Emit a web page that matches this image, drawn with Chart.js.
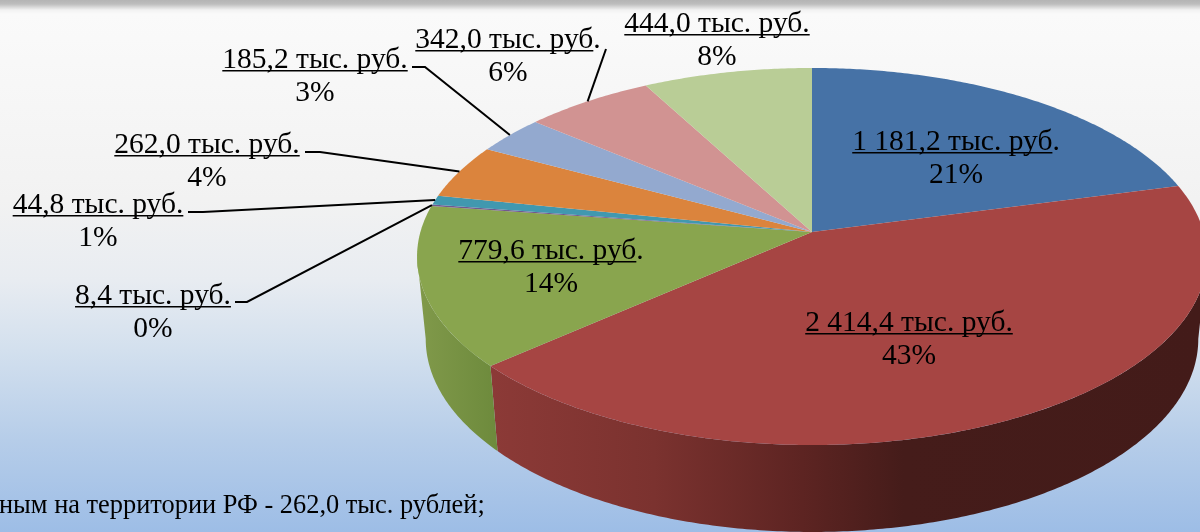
<!DOCTYPE html>
<html lang="ru">
<head>
<meta charset="utf-8">
<title>Структура расходов</title>
<script src="https://cdn.jsdelivr.net/npm/chart.js@4"></script>
<style>
  html, body { margin: 0; padding: 0; }
  body {
    width: 1200px; height: 532px; overflow: hidden;
    background: linear-gradient(180deg, #b4b4b4 0px, #bdbdbd 4px, #f2f2f2 10px, #fafafa 14px, #f2f2f2 200px, #e8ecf1 280px, #d3e0ee 350px, #b6cde9 440px, #9dbde6 532px);
  }
  canvas { display: block; }
</style>
</head>
<body>
<div style="position:relative;width:1200px;height:532px"><canvas id="pie"></canvas></div>
<script>
// Данные с картинки, по часовой стрелке от 12 часов
const values = [1181.2, 2414.4, 779.6, 8.4, 44.8, 262.0, 185.2, 342.0, 444.0];
const valueLabels = ["1 181,2 тыс. руб.", "2 414,4 тыс. руб.", "779,6 тыс. руб.", "8,4 тыс. руб.", "44,8 тыс. руб.", "262,0 тыс. руб.", "185,2 тыс. руб.", "342,0 тыс. руб.", "444,0 тыс. руб."];
const percentLabels = ["21%", "43%", "14%", "0%", "1%", "4%", "3%", "6%", "8%"];
const colors = ["#4672a6", "#a64543", "#89a54e", "#71588f", "#4198af", "#db843d", "#93a9cf", "#d19392", "#b9cd96"];
const footerText = "ным на территории РФ - 262,0 тыс. рублей;";

// Раскладка подписей: центр, базовая линия, подчёркнута ли точка
const labelLayout = [
  { x: 956, y: 150, dot: false },
  { x: 909, y: 331, dot: true },
  { x: 551, y: 259, dot: false },
  { x: 153, y: 304, dot: true },
  { x: 98, y: 213, dot: true },
  { x: 207, y: 153, dot: true },
  { x: 315, y: 68, dot: true },
  { x: 508, y: 48, dot: false },
  { x: 717, y: 32, dot: true }
];
// Выноски: откуда идёт линия (полка у подписи), конец считается по сектору
const leaders = {
  3: [[235, 302], [247, 302]],
  4: [[188, 212], [203, 212]],
  5: [[305, 152], [320, 152]],
  6: [[412, 67], [425, 67]],
  7: [[606, 49]]
};

// Верхняя грань и нижний край: круг в перспективе
const CX = 812, K = -0.13;
const top3d = { c: 391.6, a: 155.2, b: 232 };
const bottom3d = { c: 383, a: 148.8, b: 314 };
// угол, где край эллипса шире всего: стенка начинается отсюда
const SIDE = Math.asin(-K);

function project(p, angle) {
  const u = Math.cos(angle), v = Math.sin(angle), d = 1 + K * v;
  return [CX + p.c * u / d, (p.a * v + p.b) / d];
}

function tracePoints(ctx, p, from, to, first) {
  const steps = Math.max(2, Math.ceil(Math.abs(to - from) / 0.01));
  for (let i = 0; i <= steps; i++) {
    const pt = project(p, from + (to - from) * i / steps);
    if (i === 0 && first) ctx.moveTo(pt[0], pt[1]); else ctx.lineTo(pt[0], pt[1]);
  }
}

function wallGradient(ctx, stops) {
  const g = ctx.createLinearGradient(420, 0, 1200, 0);
  stops.forEach(s => g.addColorStop(s[0], s[1]));
  return g;
}

const pie3d = {
  id: "pie3d",
  // стенки и грани рисуем сами по углам секторов из Chart.js
  beforeDatasetDraw(chart) {
    const ctx = chart.ctx;
    const arcs = chart.getDatasetMeta(0).data;
    const walls = {
      1: wallGradient(ctx, [[0, "#923d3a"], [0.09, "#8c3a37"], [0.3, "#7b322f"], [0.49, "#5d2422"], [0.62, "#451c1a"], [1, "#431b19"]]),
      2: wallGradient(ctx, [[0, "#80994a"], [0.1, "#6d8a3c"], [1, "#6d8a3c"]])
    };
    ctx.save();
    arcs.forEach((arc, i) => {
      if (!walls[i]) return;
      const from = Math.max(arc.startAngle, SIDE);
      const to = Math.min(arc.endAngle, Math.PI - SIDE);
      ctx.beginPath();
      tracePoints(ctx, top3d, from, to, true);
      tracePoints(ctx, bottom3d, to, from, false);
      ctx.closePath();
      ctx.fillStyle = walls[i];
      ctx.fill();
    });
    arcs.forEach((arc, i) => {
      ctx.beginPath();
      ctx.moveTo(CX, top3d.b);
      tracePoints(ctx, top3d, arc.startAngle, arc.endAngle, false);
      ctx.closePath();
      ctx.fillStyle = colors[i];
      ctx.fill();
    });
    ctx.restore();
    return false;
  },
  afterDraw(chart) {
    const ctx = chart.ctx;
    const arcs = chart.getDatasetMeta(0).data;
    ctx.save();
    ctx.strokeStyle = "#000";
    ctx.lineWidth = 2;
    Object.keys(leaders).forEach(i => {
      const pts = leaders[i], arc = arcs[i];
      const end = project(top3d, (arc.startAngle + arc.endAngle) / 2);
      ctx.beginPath();
      pts.forEach((pt, n) => n ? ctx.lineTo(pt[0], pt[1]) : ctx.moveTo(pt[0], pt[1]));
      ctx.lineTo(end[0], end[1]);
      ctx.stroke();
    });
    ctx.fillStyle = "#000";
    ctx.textBaseline = "alphabetic";
    ctx.font = "29.5px 'Liberation Serif'";
    valueLabels.forEach((text, i) => {
      const l = labelLayout[i];
      const w = ctx.measureText(text).width;
      const dotW = ctx.measureText(".").width;
      ctx.textAlign = "center";
      ctx.fillText(text, l.x, l.y);
      ctx.fillText(percentLabels[i], l.x, l.y + 33);
      ctx.fillRect(l.x - w / 2, l.y + 2, l.dot ? w : w - dotW, 1.5);
    });
    ctx.textAlign = "left";
    ctx.font = "26.4px 'Liberation Serif'";
    ctx.fillText(footerText, -1, 513);
    ctx.restore();
  }
};

new Chart(document.getElementById("pie"), {
  type: "pie",
  data: {
    labels: valueLabels,
    datasets: [{ data: values, backgroundColor: colors, borderWidth: 0 }]
  },
  options: {
    responsive: true,
    maintainAspectRatio: false,
    animation: false,
    plugins: { legend: { display: false }, tooltip: { enabled: false } }
  },
  plugins: [pie3d]
});
</script>
</body>
</html>
